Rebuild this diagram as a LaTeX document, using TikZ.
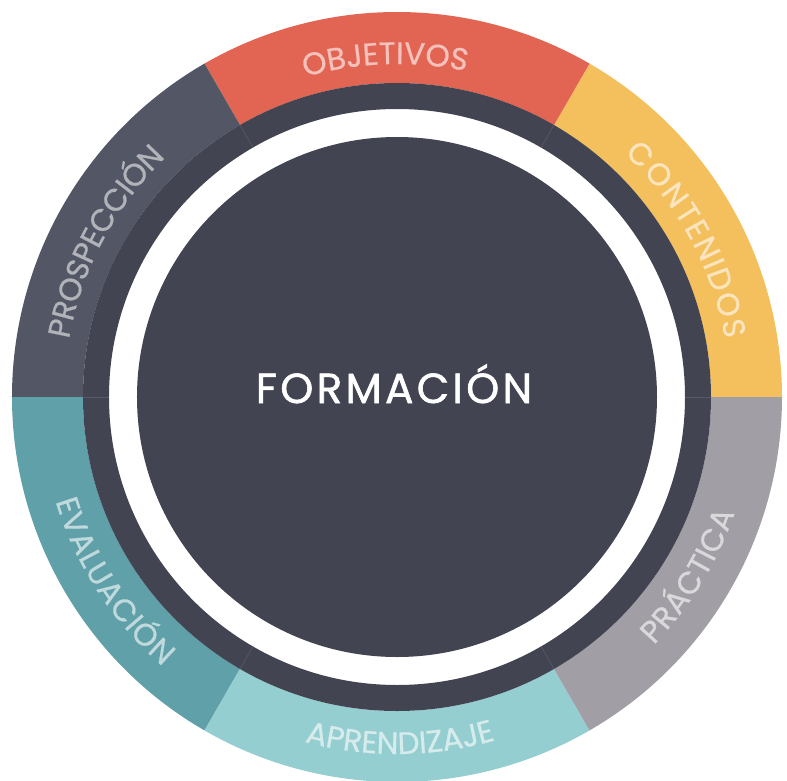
\documentclass[tikz,border=0pt]{standalone}
\usepackage{fontspec}
\setmainfont{Poppins}
\usetikzlibrary{decorations.text}
\definecolor{cdark}{HTML}{424452}
\definecolor{cobj}{HTML}{E26554}
\definecolor{ccon}{HTML}{F4BF5D}
\definecolor{cpra}{HTML}{A19FA5}
\definecolor{capr}{HTML}{95CED0}
\definecolor{ceva}{HTML}{5FA0A9}
\definecolor{cpro}{HTML}{535664}
\definecolor{cline}{HTML}{575968}
\begin{document}
\begin{tikzpicture}[x=1pt,y=1pt,
  seg/.style={fill=#1,draw=none},
  lbl/.style 2 args={decorate,decoration={text effects along path,
      text={#1},
      text effects/.cd, text along path, fit text to path,
      characters={font=\fontsize{31}{31}\selectfont\addfontfeature{FakeBold=0.6},text=#2}}}]
\useasboundingbox (-397,-383) rectangle (390,397);
% outer segments
\fill[seg=ccon] (0:385) arc[start angle=0,end angle=60,radius=385] -- (60:314) arc[start angle=60,end angle=0,radius=314] -- cycle;
\fill[seg=cobj] (60:385) arc[start angle=60,end angle=120,radius=385] -- (120:314) arc[start angle=120,end angle=60,radius=314] -- cycle;
\fill[seg=cpro] (120:385) arc[start angle=120,end angle=180,radius=385] -- (180:314) arc[start angle=180,end angle=120,radius=314] -- cycle;
\fill[seg=ceva] (180:385) arc[start angle=180,end angle=240,radius=385] -- (240:314) arc[start angle=240,end angle=180,radius=314] -- cycle;
\fill[seg=capr] (240:385) arc[start angle=240,end angle=300,radius=385] -- (300:314) arc[start angle=300,end angle=240,radius=314] -- cycle;
\fill[seg=cpra] (300:385) arc[start angle=300,end angle=360,radius=385] -- (360:314) arc[start angle=360,end angle=300,radius=314] -- cycle;
% dark ring and disk
\fill[cdark,even odd rule] (0,0) circle[radius=314] (0,0) circle[radius=288];
\foreach \a in {0,60,...,300} \draw[cline,line width=0.7] (\a:288) -- (\a:314);
\fill[cdark] (0,0) circle[radius=260];
% labels
\path[lbl={OBJETIVOS}{white!60!cobj}] (106:333) arc[start angle=106,end angle=78,radius=333];
\path[lbl={CONTENIDOS}{white!60!ccon}] (47:333) arc[start angle=47,end angle=10,radius=333];
\path[lbl={PRÁCTICA}{white!60!cpra}] (-44:357) arc[start angle=-44,end angle=-19,radius=357];
\path[lbl={APRENDIZAJE}{white!60!capr}] (255:357) arc[start angle=255,end angle=286,radius=357];
\path[lbl={EVALUACIÓN}{white!60!ceva}] (197:357) arc[start angle=197,end angle=229,radius=357];
\path[lbl={PROSPECCIÓN}{white!55!cpro}] (170:333) arc[start angle=170,end angle=134,radius=333];
% title
\node[text=white,inner sep=0pt,anchor=base,font=\fontsize{42}{42}\selectfont\addfontfeature{LetterSpace=8,FakeBold=1.4}] (title) at (-3,-6) {FORMACIÓN};
\end{tikzpicture}
\end{document}
